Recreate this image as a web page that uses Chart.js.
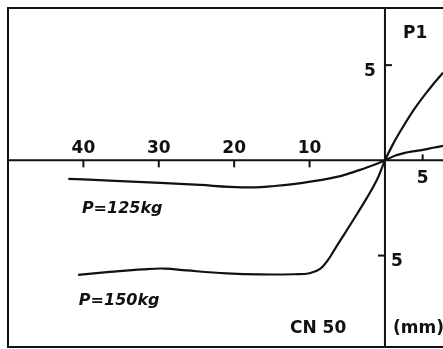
<!DOCTYPE html>
<html>
<head>
<meta charset="utf-8">
<script src="https://cdn.jsdelivr.net/npm/chart.js@4"></script>
<style>
  html, body { margin: 0; padding: 0; background: #fff; }
  #wrap { width: 443px; height: 349px; position: relative; }
</style>
</head>
<body>
<div id="wrap"><canvas id="deflectionChart"></canvas></div>
<script>
// Tick values (left side of the origin is drawn as negative x, labelled positive)
const xTicksLeft = [-40, -30, -20, -10];
const xTicksRight = [5];
const yTicksUp = [5];
const yTicksDown = [-5];

// P = 125 kg curve
const p125X = [-42, -40, -35.8, -29.8, -24.5, -20.6, -17.2, -15.3, -10.9, -6.4, -3.3, -1.06, 0, 1.3, 2.65, 3.7, 5.0, 6.4, 7.7];
const p125Y = [-0.97, -1.0, -1.08, -1.18, -1.29, -1.39, -1.42, -1.37, -1.18, -0.87, -0.5, -0.18, 0, 0.24, 0.39, 0.47, 0.55, 0.66, 0.76];

// P = 150 kg curve
const p150X = [-40.7, -36.5, -32.1, -29.2, -26.3, -21.0, -16.6, -12.0, -10.0, -8.6, -7.5, -6.4, -4.2, -2.4, -1.06, 0, 1.0, 2.0, 4.0, 6.0, 7.7];
const p150Y = [-6.01, -5.86, -5.72, -5.68, -5.78, -5.93, -5.99, -5.98, -5.93, -5.7, -5.2, -4.5, -3.13, -1.97, -1.02, 0, 0.8, 1.5, 2.75, 3.8, 4.6];

function toPoints(xs, ys) {
    return xs.map((x, i) => ({ x: x, y: ys[i] }));
}

const FONT = '"DejaVu Sans", sans-serif';

// draws the frame, the crossing axes, ticks and all the labels
const axesPlugin = {
    id: 'crossAxes',
    afterDatasetsDraw(chart) {
        const ctx = chart.ctx;
        const area = chart.chartArea;
        const xs = chart.scales.x;
        const ys = chart.scales.y;
        const x0 = xs.getPixelForValue(0);
        const y0 = ys.getPixelForValue(0);

        ctx.save();
        ctx.strokeStyle = '#111';
        ctx.lineCap = 'butt';

        // frame (left, top, bottom)
        ctx.lineWidth = 2;
        ctx.beginPath();
        ctx.moveTo(area.right + 2, area.top);
        ctx.lineTo(area.left, area.top);
        ctx.lineTo(area.left, area.bottom);
        ctx.lineTo(area.right + 2, area.bottom);
        ctx.stroke();

        // axes
        ctx.beginPath();
        ctx.moveTo(area.left, y0);
        ctx.lineTo(area.right, y0);
        ctx.moveTo(x0, area.top);
        ctx.lineTo(x0, area.bottom);
        ctx.stroke();

        ctx.fillStyle = '#111';
        ctx.font = 'bold 17px ' + FONT;

        // x ticks on the left: marks below, labels above
        ctx.textAlign = 'center';
        ctx.textBaseline = 'alphabetic';
        xTicksLeft.forEach(v => {
            const px = xs.getPixelForValue(v);
            ctx.beginPath();
            ctx.moveTo(px, y0);
            ctx.lineTo(px, y0 + 7);
            ctx.stroke();
            ctx.fillText(String(Math.abs(v)), px, y0 - 7);
        });
        // x ticks on the right: marks above, labels below
        xTicksRight.forEach(v => {
            const px = xs.getPixelForValue(v);
            ctx.beginPath();
            ctx.moveTo(px, y0);
            ctx.lineTo(px, y0 - 6);
            ctx.stroke();
            ctx.fillText(String(Math.abs(v)), px, y0 + 23);
        });
        // y ticks above: mark right, label left
        yTicksUp.forEach(v => {
            const py = ys.getPixelForValue(v);
            ctx.beginPath();
            ctx.moveTo(x0, py);
            ctx.lineTo(x0 + 7, py);
            ctx.stroke();
            ctx.fillText(String(Math.abs(v)), x0 - 15, py + 11);
        });
        // y ticks below: mark left, label right
        yTicksDown.forEach(v => {
            const py = ys.getPixelForValue(v);
            ctx.beginPath();
            ctx.moveTo(x0, py);
            ctx.lineTo(x0 - 7, py);
            ctx.stroke();
            ctx.fillText(String(Math.abs(v)), x0 + 12, py + 10);
        });

        // annotations
        ctx.textAlign = 'left';
        ctx.fillText('P1', x0 + 18, area.top + 30);
        ctx.fillText('CN 50', x0 - 95, area.bottom - 14);
        ctx.fillText('(mm)', x0 + 8, area.bottom - 14);

        ctx.font = 'italic bold 16px ' + FONT;
        ctx.fillText('P=125kg', xs.getPixelForValue(-40.2), ys.getPixelForValue(-2.75));
        ctx.fillText('P=150kg', xs.getPixelForValue(-40.6), ys.getPixelForValue(-7.6));

        ctx.restore();
    }
};

document.addEventListener('DOMContentLoaded', function() {
    const ctx = document.getElementById('deflectionChart').getContext('2d');
    const deflectionChart = new Chart(ctx, {
        type: 'scatter',
        data: {
            datasets: [{
                label: 'P=125kg',
                data: toPoints(p125X, p125Y),
                showLine: true,
                borderColor: '#111',
                borderWidth: 2.2,
                pointRadius: 0,
                tension: 0.4
            }, {
                label: 'P=150kg',
                data: toPoints(p150X, p150Y),
                showLine: true,
                borderColor: '#111',
                borderWidth: 2.2,
                pointRadius: 0,
                tension: 0.4
            }]
        },
        options: {
            responsive: true,
            maintainAspectRatio: false,
            animation: false,
            layout: { padding: { left: 8, top: 8, right: 0, bottom: 2 } },
            plugins: {
                legend: { display: false },
                tooltip: { enabled: false }
            },
            scales: {
                x: { type: 'linear', min: -50, max: 7.7, display: false },
                y: { type: 'linear', min: -9.8, max: 8, display: false }
            }
        },
        plugins: [axesPlugin]
    });
});
</script>
</body>
</html>
